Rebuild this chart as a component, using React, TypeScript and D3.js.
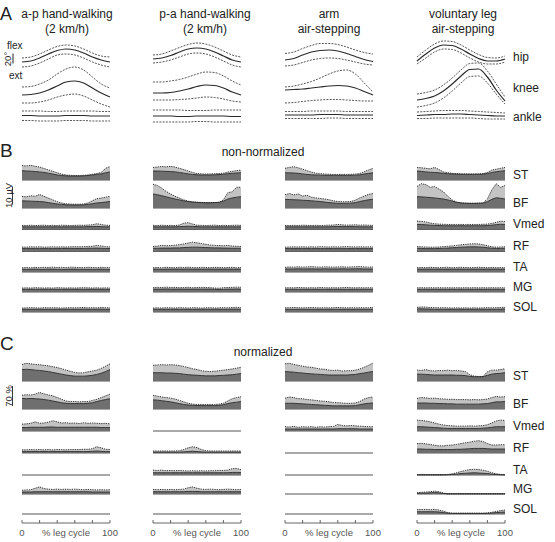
import React from 'react';
import * as d3 from 'd3';

const W = 555;
const H = 542;
const FONT = '"Liberation Sans", Arial, Helvetica, sans-serif';

// ---------- categories / labels ----------
const conditionTitle = ['a-p hand-walking', 'p-a hand-walking', 'arm', 'voluntary leg'];
const conditionSubtitle = ['(2 km/h)', '(2 km/h)', 'air-stepping', 'air-stepping'];
const jointNames = ['hip', 'knee', 'ankle'];
const muscleNames = ['ST', 'BF', 'Vmed', 'RF', 'TA', 'MG', 'SOL'];
const jointCycle = [0, 10, 20, 30, 40, 50, 60, 70, 80, 90, 100];
const emgCycle = [0, 5, 10, 15, 20, 25, 30, 35, 40, 45, 50, 55, 60, 65, 70, 75, 80, 85, 90, 95, 100];
const cycleTicks = [0, 20, 40, 60, 80, 100];

// ---------- joint angles (deg, relative), one row per condition ----------
const hipUpper = [
  [24, 26, 32, 40, 47, 50, 48, 42, 34, 28, 26],
  [30, 32, 38, 45, 51, 54, 52, 46, 38, 30, 26],
  [33, 36, 43, 49, 53, 53, 51, 46, 40, 35, 32],
  [26, 40, 52, 58, 57, 50, 40, 31, 25, 24, 28],
];
const hipMean = [
  [16, 18, 24, 32, 39, 42, 40, 34, 26, 20, 16],
  [22, 24, 29, 36, 42, 44, 42, 36, 28, 20, 16],
  [20, 23, 30, 36, 39, 40, 38, 33, 27, 21, 17],
  [18, 32, 44, 50, 49, 42, 32, 23, 18, 18, 22],
];
const hipLower = [
  [6, 8, 14, 22, 30, 32, 30, 24, 16, 10, 6],
  [14, 16, 20, 26, 32, 34, 32, 26, 18, 10, 6],
  [8, 10, 15, 20, 23, 24, 23, 20, 16, 12, 10],
  [12, 24, 36, 42, 41, 34, 24, 16, 12, 12, 16],
];
const kneeUpper = [
  [56, 57, 62, 70, 82, 92, 96, 90, 76, 62, 54],
  [66, 66, 68, 71, 76, 82, 86, 85, 78, 68, 60],
  [56, 58, 62, 67, 74, 82, 88, 90, 82, 64, 46],
  [42, 45, 50, 60, 74, 90, 103, 104, 88, 62, 36],
];
const kneeMean = [
  [40, 41, 44, 50, 58, 66, 68, 64, 54, 44, 36],
  [44, 44, 45, 48, 52, 57, 60, 59, 54, 46, 40],
  [50, 51, 52, 54, 56, 58, 59, 58, 54, 47, 40],
  [30, 33, 38, 48, 62, 78, 91, 92, 76, 50, 28],
];
const kneeLower = [
  [24, 24, 26, 30, 36, 40, 42, 38, 30, 22, 16],
  [30, 30, 30, 31, 32, 34, 36, 35, 32, 28, 26],
  [24, 25, 27, 29, 30, 31, 31, 30, 29, 28, 28],
  [16, 19, 24, 34, 48, 64, 77, 78, 64, 42, 22],
];
const ankleUpper = [
  [28, 28, 28, 27, 27, 28, 28, 28, 28, 27, 27],
  [30, 30, 30, 30, 29, 29, 29, 30, 30, 30, 30],
  [27, 27, 27, 28, 28, 28, 28, 27, 27, 27, 27],
  [26, 27, 28, 29, 29, 29, 28, 27, 26, 25, 24],
];
const ankleMean = [
  [19, 19, 18, 18, 18, 19, 19, 19, 18, 18, 18],
  [18, 18, 18, 17, 17, 18, 18, 18, 18, 17, 17],
  [20, 20, 20, 20, 21, 21, 21, 20, 20, 20, 20],
  [19, 20, 21, 21, 22, 22, 21, 20, 19, 18, 18],
];
const ankleLower = [
  [9, 9, 8, 8, 8, 9, 9, 9, 8, 8, 8],
  [6, 6, 6, 6, 6, 7, 7, 6, 6, 6, 6],
  [13, 13, 13, 13, 13, 14, 14, 13, 13, 13, 13],
  [13, 13, 14, 14, 14, 14, 14, 13, 12, 12, 12],
];

// ---------- B: non-normalized EMG (µV), rows = ST, BF, Vmed, RF, TA, MG, SOL ----------
const bUpperAP = [
  [8, 7.8, 8.2, 7.6, 7.2, 6.4, 5.6, 4.8, 4, 3.3, 2.8, 2.6, 2.5, 2.5, 2.6, 2.8, 3.2, 3.6, 4.2, 6.5, 7.5],
  [6.5, 6.2, 6.8, 6.5, 7.5, 6.5, 5.5, 4.5, 3.5, 2.8, 2.3, 2.2, 2.1, 2.1, 2.2, 2.8, 4, 5.2, 5.5, 6, 6.5],
  [2.3, 2.2, 2.4, 2.2, 2.3, 2.4, 2.2, 2.3, 2.2, 2.4, 2.3, 2.2, 2.3, 2.4, 2.3, 2.5, 2.6, 3.2, 2.8, 2.4, 2.3],
  [2.5, 2.4, 2.6, 2.5, 2.6, 2.4, 2.5, 2.6, 2.5, 2.6, 2.5, 2.6, 2.7, 2.6, 2.7, 2.8, 2.9, 3.4, 3.1, 2.7, 2.6],
  [2.3, 2.5, 2.3, 2.6, 2.4, 2.6, 2.5, 2.7, 2.5, 2.6, 2.4, 2.7, 2.6, 2.5, 2.4, 2.6, 2.5, 2.4, 2.6, 2.5, 2.4],
  [2.2, 2.3, 2.2, 2.4, 2.3, 2.2, 2.3, 2.2, 2.4, 2.3, 2.2, 2.3, 2.2, 2.3, 2.4, 2.3, 2.2, 2.3, 2.2, 2.3, 2.2],
  [2.2, 2.3, 2.4, 2.3, 2.2, 2.4, 2.3, 2.4, 2.3, 2.2, 2.3, 2.4, 2.3, 2.4, 2.5, 2.3, 2.4, 2.3, 2.5, 2.4, 2.3],
];
const bMeanAP = [
  [5.2, 5, 4.9, 4.7, 4.5, 4.2, 3.8, 3.3, 2.8, 2.5, 2.3, 2.2, 2.2, 2.2, 2.3, 2.5, 2.8, 3.1, 3.4, 4, 4.5],
  [4, 3.9, 3.8, 3.7, 3.6, 3.4, 3, 2.6, 2.2, 2, 1.8, 1.7, 1.7, 1.7, 1.8, 2, 2.4, 2.8, 3, 3.3, 3.6],
  [1.5, 1.5, 1.5, 1.5, 1.5, 1.5, 1.5, 1.5, 1.5, 1.5, 1.5, 1.5, 1.5, 1.5, 1.5, 1.6, 1.6, 1.7, 1.6, 1.5, 1.5],
  [1.6, 1.6, 1.6, 1.6, 1.6, 1.6, 1.6, 1.6, 1.6, 1.7, 1.7, 1.7, 1.7, 1.7, 1.7, 1.8, 1.8, 1.9, 1.8, 1.7, 1.7],
  [1.5, 1.5, 1.5, 1.6, 1.5, 1.5, 1.6, 1.6, 1.5, 1.5, 1.5, 1.6, 1.6, 1.5, 1.5, 1.5, 1.5, 1.5, 1.6, 1.5, 1.5],
  [1.5, 1.5, 1.5, 1.5, 1.5, 1.5, 1.5, 1.5, 1.5, 1.5, 1.5, 1.5, 1.5, 1.5, 1.5, 1.5, 1.5, 1.5, 1.5, 1.5, 1.5],
  [1.5, 1.5, 1.5, 1.5, 1.5, 1.5, 1.5, 1.5, 1.5, 1.5, 1.5, 1.5, 1.5, 1.5, 1.6, 1.5, 1.5, 1.5, 1.6, 1.5, 1.5],
];
const bUpperPA = [
  [7, 7.2, 7.5, 7.3, 7.6, 7.2, 6.5, 5.8, 5, 4.2, 3.6, 3.4, 3.3, 3.4, 3.5, 3.6, 3.8, 4.4, 4.8, 5.2, 5.5],
  [13.2, 12.5, 11, 9.2, 7.8, 6.5, 5.5, 4.5, 3.8, 3.4, 3.2, 3.1, 3, 3, 3, 3.2, 4.5, 8.5, 9, 11.5, 11.5],
  [2.3, 2.2, 2.4, 2.2, 2.3, 2.2, 2.5, 3.5, 3.8, 3, 2.4, 2.3, 2.2, 2.3, 2.4, 2.2, 2.3, 2.2, 2.3, 2.4, 2.3],
  [2.8, 3, 3.4, 3.2, 3.3, 3.5, 3.8, 4.2, 4.7, 5.2, 4.8, 4.4, 4, 3.6, 3.4, 3.3, 3.2, 3.4, 3, 2.9, 2.8],
  [2.4, 2.5, 2.3, 2.6, 2.5, 2.4, 2.6, 2.5, 2.7, 2.5, 2.4, 2.6, 2.5, 2.4, 2.6, 2.5, 2.4, 2.5, 2.6, 2.4, 2.5],
  [2.4, 2.6, 2.5, 2.7, 2.5, 2.6, 2.4, 2.5, 2.6, 2.4, 2.5, 2.6, 2.5, 2.4, 2.2, 2.1, 2.4, 2.5, 2.6, 2.7, 2.6],
  [2.2, 2.3, 2.2, 2.4, 2.3, 2.2, 2.4, 2.3, 2.2, 2.4, 2.3, 2.2, 2.3, 2.4, 2.2, 2.3, 2.4, 2.3, 2.5, 2.6, 2.4],
];
const bMeanPA = [
  [5, 5, 4.9, 4.8, 4.7, 4.5, 4.2, 3.8, 3.4, 3.1, 2.9, 2.8, 2.8, 2.8, 2.9, 3, 3.2, 3.5, 3.7, 3.9, 4],
  [7.8, 7.4, 6.8, 6.2, 5.6, 5, 4.5, 4, 3.6, 3.3, 3.1, 3, 2.9, 2.9, 3, 3.1, 3.8, 5, 5.6, 6, 6.3],
  [1.5, 1.5, 1.5, 1.5, 1.5, 1.5, 1.6, 1.7, 1.8, 1.7, 1.6, 1.5, 1.5, 1.5, 1.5, 1.5, 1.5, 1.5, 1.5, 1.5, 1.5],
  [1.8, 1.8, 1.9, 1.9, 1.9, 2, 2, 2.2, 2.3, 2.4, 2.4, 2.3, 2.2, 2.1, 2, 2, 1.9, 1.9, 1.8, 1.8, 1.8],
  [1.6, 1.6, 1.5, 1.6, 1.6, 1.6, 1.6, 1.6, 1.7, 1.6, 1.6, 1.6, 1.6, 1.6, 1.6, 1.6, 1.6, 1.6, 1.6, 1.6, 1.6],
  [1.6, 1.6, 1.6, 1.7, 1.6, 1.6, 1.6, 1.6, 1.6, 1.6, 1.6, 1.6, 1.6, 1.6, 1.5, 1.4, 1.5, 1.6, 1.6, 1.7, 1.6],
  [1.5, 1.5, 1.5, 1.5, 1.5, 1.5, 1.5, 1.5, 1.5, 1.5, 1.5, 1.5, 1.5, 1.5, 1.5, 1.5, 1.5, 1.5, 1.6, 1.6, 1.5],
];
const bUpperArm = [
  [6.5, 7, 7.4, 6.8, 6, 5.2, 4.4, 3.8, 3.5, 3.3, 3.2, 3.1, 3.1, 3.1, 3.1, 3.2, 3.3, 3.6, 4.6, 5.6, 6.5],
  [7.4, 8, 7.3, 7.8, 6.6, 7.1, 6, 5.6, 5.3, 5, 4.6, 4, 3.6, 3.5, 3.5, 3.6, 4.4, 5.6, 6.6, 7.6, 8],
  [2.3, 2.2, 2.3, 2.2, 2.4, 2.3, 2.2, 2.3, 2.2, 2.3, 2.4, 2.5, 2.8, 2.6, 2.4, 2.5, 2.6, 2.4, 2.5, 2.4, 2.3],
  [2.4, 2.5, 2.6, 2.5, 2.6, 2.5, 2.6, 2.5, 2.7, 2.6, 2.5, 2.6, 2.5, 2.6, 2.7, 2.6, 2.5, 2.6, 2.5, 2.6, 2.5],
  [2.6, 2.8, 2.7, 2.9, 2.7, 2.8, 3, 2.8, 2.7, 2.9, 2.8, 2.7, 2.8, 2.9, 2.7, 2.8, 2.9, 3, 2.8, 2.7, 2.8],
  [2.3, 2.4, 2.3, 2.5, 2.4, 2.3, 2.4, 2.3, 2.5, 2.4, 2.3, 2.4, 2.3, 2.4, 2.5, 2.4, 2.3, 2.4, 2.3, 2.4, 2.3],
  [2.3, 2.4, 2.5, 2.4, 2.3, 2.4, 2.5, 2.4, 2.3, 2.4, 2.3, 2.4, 2.5, 2.4, 2.3, 2.4, 2.3, 2.4, 2.3, 2.4, 2.6],
];
const bMeanArm = [
  [4, 4, 3.9, 3.7, 3.4, 3.1, 2.9, 2.8, 2.7, 2.6, 2.6, 2.6, 2.6, 2.6, 2.6, 2.6, 2.7, 2.9, 3.3, 3.7, 4],
  [4.8, 4.7, 4.6, 4.5, 4.3, 4.2, 4, 3.8, 3.6, 3.3, 3, 2.8, 2.6, 2.6, 2.6, 2.7, 3, 3.6, 4.1, 4.6, 4.9],
  [1.5, 1.5, 1.5, 1.5, 1.5, 1.5, 1.5, 1.5, 1.5, 1.5, 1.5, 1.6, 1.7, 1.6, 1.6, 1.6, 1.6, 1.5, 1.5, 1.5, 1.5],
  [1.6, 1.6, 1.6, 1.6, 1.6, 1.6, 1.6, 1.6, 1.6, 1.6, 1.6, 1.6, 1.6, 1.6, 1.6, 1.6, 1.6, 1.6, 1.6, 1.6, 1.6],
  [1.7, 1.7, 1.7, 1.8, 1.7, 1.7, 1.8, 1.7, 1.7, 1.8, 1.7, 1.7, 1.7, 1.8, 1.7, 1.7, 1.8, 1.8, 1.7, 1.7, 1.7],
  [1.5, 1.5, 1.5, 1.5, 1.5, 1.5, 1.5, 1.5, 1.5, 1.5, 1.5, 1.5, 1.5, 1.5, 1.5, 1.5, 1.5, 1.5, 1.5, 1.5, 1.5],
  [1.5, 1.5, 1.5, 1.5, 1.5, 1.5, 1.5, 1.5, 1.5, 1.5, 1.5, 1.5, 1.5, 1.5, 1.5, 1.5, 1.5, 1.5, 1.5, 1.5, 1.6],
];
const bUpperLeg = [
  [7, 6.8, 6.5, 6.2, 7, 5.8, 4.5, 4, 3.7, 3.5, 3.4, 3.4, 3.3, 3.3, 3.4, 3.5, 4.2, 5.5, 6, 6.5, 7],
  [12, 13.5, 13, 11.5, 12, 10.5, 9, 6.5, 4.5, 3.2, 2.8, 2.7, 2.6, 2.6, 2.7, 2.8, 5, 10, 13.5, 11.5, 12.5],
  [4.7, 4.5, 4.2, 3.6, 3.2, 3, 2.9, 2.8, 2.8, 2.8, 2.8, 2.8, 2.8, 2.8, 2.8, 2.9, 3, 3.4, 4, 4.6, 4.5],
  [2.7, 2.6, 2.5, 2.4, 2.4, 2.5, 2.7, 2.9, 3.1, 3.4, 3.7, 4, 4.2, 4.3, 4.2, 3.8, 3.2, 2.6, 2.4, 2.5, 2.6],
  [2.4, 2.5, 2.4, 2.6, 2.5, 2.4, 2.5, 2.6, 2.4, 2.5, 2.6, 2.5, 2.4, 2.5, 2.6, 2.5, 2.4, 2.5, 2.4, 2.5, 2.4],
  [2.3, 2.4, 2.3, 2.4, 2.3, 2.4, 2.3, 2.4, 2.3, 2.4, 2.3, 2.4, 2.3, 2.4, 2.3, 2.4, 2.3, 2.4, 2.3, 2.4, 2.3],
  [2.6, 2.8, 2.7, 2.5, 2.4, 2.3, 2.4, 2.3, 2.2, 2.3, 2.2, 2.3, 2.2, 2.3, 2.2, 2.3, 2.4, 2.3, 2.4, 2.5, 2.6],
];
const bMeanLeg = [
  [5, 4.8, 4.5, 4.3, 4.2, 4, 3.7, 3.5, 3.4, 3.3, 3.2, 3.2, 3.2, 3.2, 3.2, 3.3, 3.6, 4.2, 4.6, 4.9, 5.2],
  [6.3, 6.2, 6, 5.8, 5.6, 5.3, 5, 4.5, 3.8, 3.2, 2.8, 2.6, 2.6, 2.6, 2.6, 2.7, 3.5, 4.8, 5.7, 5.4, 5],
  [2.8, 2.8, 2.6, 2.4, 2.3, 2.2, 2.1, 2.1, 2.1, 2.1, 2.1, 2.1, 2.1, 2.1, 2.1, 2.1, 2.2, 2.4, 2.7, 2.9, 2.8],
  [1.8, 1.7, 1.6, 1.6, 1.6, 1.7, 1.8, 1.9, 2.1, 2.2, 2.4, 2.5, 2.6, 2.6, 2.5, 2.4, 2.1, 1.8, 1.7, 1.7, 1.8],
  [1.6, 1.6, 1.6, 1.6, 1.6, 1.6, 1.6, 1.6, 1.6, 1.6, 1.6, 1.6, 1.6, 1.6, 1.6, 1.6, 1.6, 1.6, 1.6, 1.6, 1.6],
  [1.5, 1.5, 1.5, 1.5, 1.5, 1.5, 1.5, 1.5, 1.5, 1.5, 1.5, 1.5, 1.5, 1.5, 1.5, 1.5, 1.5, 1.5, 1.5, 1.5, 1.5],
  [1.7, 1.8, 1.7, 1.6, 1.5, 1.5, 1.5, 1.5, 1.5, 1.5, 1.5, 1.5, 1.5, 1.5, 1.5, 1.5, 1.5, 1.5, 1.5, 1.6, 1.7],
];

// ---------- C: normalized EMG (%), null = muscle shown as flat line ----------
const cUpperAP = [
  [58, 62, 60, 58, 57, 55, 53, 50, 47, 43, 38, 34, 30, 28, 29, 32, 35, 38, 44, 52, 60],
  [48, 50, 49, 52, 58, 53, 49, 46, 40, 34, 28, 26, 26, 25, 26, 26, 30, 34, 40, 46, 52],
  [24, 25, 27, 32, 27, 28, 31, 36, 32, 28, 29, 27, 28, 26, 29, 27, 28, 27, 26, 27, 25],
  [11, 11, 12, 11, 12, 11, 12, 11, 12, 12, 11, 12, 12, 12, 13, 13, 15, 22, 18, 13, 12],
  null,
  [13, 14, 15, 20, 25, 19, 17, 16, 17, 16, 17, 16, 17, 16, 15, 16, 15, 14, 15, 14, 15],
  null,
];
const cMeanAP = [
  [40, 41, 40, 38, 37, 35, 33, 30, 27, 24, 21, 19, 17, 17, 17, 18, 20, 23, 27, 33, 40],
  [37, 36, 37, 36, 35, 33, 31, 28, 25, 22, 20, 19, 19, 19, 19, 20, 22, 26, 30, 33, 36],
  [12, 12, 13, 13, 13, 13, 14, 14, 13, 13, 13, 13, 13, 13, 13, 13, 13, 13, 12, 12, 12],
  [5, 5, 5, 5, 5, 5, 5, 5, 5, 5, 5, 5, 5, 5, 5, 5, 6, 7, 6, 5, 5],
  null,
  [7, 7, 7, 8, 8, 8, 8, 8, 8, 8, 8, 8, 8, 8, 8, 8, 7, 7, 7, 7, 7],
  null,
];
const cUpperPA = [
  [55, 56, 57, 56, 57, 56, 54, 51, 47, 43, 40, 36, 34, 33, 34, 36, 38, 40, 42, 45, 48],
  [48, 45, 42, 40, 38, 35, 30, 25, 20, 17, 16, 16, 16, 16, 16, 17, 20, 28, 36, 40, 43],
  null,
  [7, 7, 7, 7, 7, 7, 8, 12, 18, 22, 19, 12, 8, 7, 7, 7, 7, 7, 7, 7, 7],
  [17, 16, 17, 15, 16, 15, 16, 15, 14, 15, 14, 15, 14, 15, 15, 16, 16, 17, 22, 23, 19],
  [16, 15, 16, 15, 16, 15, 16, 17, 22, 25, 20, 17, 16, 17, 16, 15, 16, 17, 16, 15, 16],
  null,
];
const cMeanPA = [
  [29, 29, 29, 28, 28, 27, 26, 24, 22, 21, 20, 19, 18, 18, 18, 19, 20, 21, 22, 24, 26],
  [32, 31, 29, 27, 25, 22, 19, 16, 14, 13, 12, 12, 12, 12, 12, 13, 15, 19, 22, 24, 26],
  null,
  [3, 3, 3, 3, 3, 3, 3, 4, 5, 6, 5, 4, 3, 3, 3, 3, 3, 3, 3, 3, 3],
  [8, 8, 8, 8, 8, 8, 8, 8, 8, 8, 8, 8, 8, 8, 8, 8, 8, 8, 9, 9, 9],
  [8, 8, 8, 8, 8, 8, 8, 8, 9, 9, 9, 8, 8, 8, 8, 8, 8, 8, 8, 8, 8],
  null,
];
const cUpperArm = [
  [60, 62, 58, 55, 52, 49, 48, 45, 42, 41, 38, 37, 38, 35, 36, 36, 38, 42, 48, 55, 63],
  [38, 42, 40, 36, 36, 33, 32, 30, 28, 27, 25, 23, 22, 21, 20, 20, 21, 26, 35, 40, 42],
  [15, 14, 16, 13, 15, 14, 15, 13, 15, 14, 15, 16, 23, 19, 18, 19, 18, 17, 16, 15, 15],
  null,
  null,
  null,
  null,
];
const cMeanArm = [
  [33, 32, 31, 29, 28, 26, 25, 24, 23, 22, 21, 21, 21, 21, 21, 22, 23, 26, 28, 31, 33],
  [20, 20, 20, 19, 18, 17, 16, 15, 14, 13, 12, 11, 11, 11, 11, 11, 12, 15, 18, 20, 21],
  [7, 7, 7, 7, 7, 7, 7, 7, 7, 7, 7, 7, 8, 8, 8, 8, 8, 7, 7, 7, 7],
  null,
  null,
  null,
  null,
];
const cUpperLeg = [
  [38, 37, 40, 36, 35, 37, 36, 38, 36, 37, 35, 33, 22, 17, 16, 16, 32, 38, 38, 40, 43],
  [37, 40, 39, 37, 38, 36, 35, 34, 34, 33, 33, 33, 32, 33, 32, 33, 35, 40, 44, 42, 43],
  [38, 37, 35, 32, 28, 24, 21, 19, 18, 17, 17, 17, 18, 17, 18, 19, 22, 28, 35, 38, 37],
  [33, 34, 32, 30, 27, 25, 25, 27, 28, 30, 33, 36, 38, 41, 43, 40, 33, 28, 28, 29, 29],
  [1, 1, 1, 1, 1, 1, 1, 2, 4, 8, 12, 16, 19, 20, 19, 17, 13, 8, 4, 2, 1],
  [4, 6, 7, 8, 10, 8, 3, 1, 1, 1, 1, 1, 1, 1, 1, 1, 1, 1, 1, 1, 1],
  [15, 16, 16, 15, 16, 14, 10, 5, 3, 3, 3, 3, 3, 3, 3, 3, 4, 6, 9, 12, 14],
];
const cMeanLeg = [
  [24, 24, 23, 22, 21, 21, 21, 21, 21, 20, 20, 19, 16, 15, 15, 15, 20, 24, 26, 27, 29],
  [21, 21, 21, 20, 20, 19, 19, 18, 18, 17, 17, 17, 17, 17, 17, 18, 19, 22, 25, 25, 26],
  [15, 15, 14, 13, 12, 11, 10, 9, 9, 9, 9, 9, 9, 9, 9, 10, 11, 13, 15, 15, 15],
  [14, 14, 13, 13, 12, 12, 12, 12, 12, 13, 13, 14, 15, 16, 16, 16, 15, 14, 14, 14, 14],
  [0.5, 0.5, 0.5, 0.5, 0.5, 0.5, 0.5, 1, 2, 3, 5, 6, 7, 8, 7, 6, 5, 3, 2, 1, 0.5],
  [2, 3, 3, 4, 5, 4, 2, 0.5, 0.5, 0.5, 0.5, 0.5, 0.5, 0.5, 0.5, 0.5, 0.5, 0.5, 0.5, 0.5, 0.5],
  [8, 8, 8, 8, 8, 7, 5, 3, 2, 2, 2, 2, 2, 2, 2, 2, 2, 3, 5, 6, 7],
];

// ---------- layout (pixels) ----------
const colRange = [[22, 110], [153, 241], [285, 373], [417, 505]];
const titleCenter = [67, 205, 329, 463];
const jointBaseY = [70, 115, 125];
const bBaseY = [180, 208, 229.5, 251.5, 272, 292, 312];
const cBaseY = [381, 409, 431, 453, 475, 494, 514];
const axisY = 523;

const bUpper = [bUpperAP, bUpperPA, bUpperArm, bUpperLeg];
const bMean = [bMeanAP, bMeanPA, bMeanArm, bMeanLeg];
const cUpper = [cUpperAP, cUpperPA, cUpperArm, cUpperLeg];
const cMean = [cMeanAP, cMeanPA, cMeanArm, cMeanLeg];
const jointUpper = [hipUpper, kneeUpper, ankleUpper];
const jointMean = [hipMean, kneeMean, ankleMean];
const jointLower = [hipLower, kneeLower, ankleLower];

const DARK = '#6f6f6f';
const LIGHT = '#c3c3c3';
const INK = '#222';

function xScale(c: number) {
  return d3.scaleLinear().domain([0, 100]).range(colRange[c]);
}

function EmgTrace({ c, base, k, upper, mean }: { c: number; base: number; k: number; upper: number[] | null; mean: number[] | null }) {
  const x = xScale(c);
  const y = d3.scaleLinear().domain([0, 10]).range([base, base - 10 * k]);
  if (!upper || !mean) {
    return <line x1={x(0)} x2={x(100)} y1={base} y2={base} stroke="#555" strokeWidth={1.1} />;
  }
  const idx = emgCycle.map((_, i) => i);
  const darkArea = d3.area<number>().x((i) => x(emgCycle[i])).y0(base).y1((i) => y(mean[i]));
  const lightArea = d3.area<number>().x((i) => x(emgCycle[i])).y0((i) => y(mean[i])).y1((i) => y(upper[i]));
  const meanLine = d3.line<number>().x((i) => x(emgCycle[i])).y((i) => y(mean[i]));
  const upLine = d3.line<number>().x((i) => x(emgCycle[i])).y((i) => y(upper[i]));
  return (
    <g>
      <line x1={x(0)} x2={x(100)} y1={base} y2={base} stroke="#555" strokeWidth={1} />
      <path d={lightArea(idx) || ''} fill={LIGHT} />
      <path d={darkArea(idx) || ''} fill={DARK} />
      <path d={upLine(idx) || ''} fill="none" stroke="#222" strokeWidth={0.9} strokeDasharray="1.3,1" />
      <path d={meanLine(idx) || ''} fill="none" stroke="#2a2a2a" strokeWidth={0.9} />
    </g>
  );
}

function JointCurves({ c, j }: { c: number; j: number }) {
  const x = xScale(c);
  const y = d3.scaleLinear().domain([0, 20]).range([jointBaseY[j], jointBaseY[j] - 10]);
  const gen = d3.line<number>().x((d, i) => x(jointCycle[i])).y((d) => y(d)).curve(d3.curveMonotoneX);
  return (
    <g fill="none">
      <path d={gen(jointUpper[j][c]) || ''} stroke="#444" strokeWidth={0.9} strokeDasharray="2,1.2" />
      <path d={gen(jointLower[j][c]) || ''} stroke="#444" strokeWidth={0.9} strokeDasharray="2,1.2" />
      <path d={gen(jointMean[j][c]) || ''} stroke="#2a2a2a" strokeWidth={1.2} />
    </g>
  );
}

export default function App() {
  const kB = 1.8; // px per µV
  const kC = 20 / 70 * 10 / 10; // px per %
  return (
    <svg width={W} height={H} viewBox={`0 0 ${W} ${H}`} style={{ position: 'absolute', left: 0, top: 0, background: '#fff' }} fontFamily={FONT}>
      <rect width={W} height={H} fill="#fff" />
      {/* panel letters */}
      <text x={0} y={20} fontSize={18} fill={INK}>A</text>
      <text x={0} y={157} fontSize={19} fill={INK}>B</text>
      <text x={0} y={350} fontSize={19} fill={INK}>C</text>

      {/* titles */}
      {conditionTitle.map((t, c) => (
        <g key={'t' + c} fontSize={12} fill={INK} textAnchor="middle">
          <text x={titleCenter[c]} y={17.5}>{t}</text>
          <text x={titleCenter[c]} y={32.5}>{conditionSubtitle[c]}</text>
        </g>
      ))}

      {/* panel A scale */}
      <text x={7} y={48.5} fontSize={10} fill={INK}>flex</text>
      <text x={9} y={78.5} fontSize={10} fill={INK}>ext</text>
      <text transform="translate(10.5,59) rotate(-90)" fontSize={9.5} textAnchor="middle" fill={INK}>20°</text>
      <line x1={13} x2={13} y1={53.5} y2={63.5} stroke={INK} strokeWidth={1} />

      {/* panel A curves */}
      {colRange.map((_, c) => jointNames.map((_, j) => <JointCurves key={`j${c}-${j}`} c={c} j={j} />))}
      {jointNames.map((n, j) => (
        <text key={n} x={513} y={[61, 92, 121][j]} fontSize={12} fill={INK}>{n}</text>
      ))}

      {/* panel B */}
      <text x={263} y={156} fontSize={12} fill={INK} textAnchor="middle">non-normalized</text>
      <text transform="translate(11.5,195.5) rotate(-90)" fontSize={9.5} textAnchor="middle" fill={INK}>10 µV</text>
      <line x1={12.5} x2={12.5} y1={195.5 - 9} y2={195.5 + 9} stroke={INK} strokeWidth={0.9} />
      {colRange.map((_, c) =>
        muscleNames.map((m, r) => (
          <EmgTrace key={`b${c}-${r}`} c={c} base={bBaseY[r]} k={kB} upper={bUpper[c][r]} mean={bMean[c][r]} />
        ))
      )}
      {muscleNames.map((m, r) => (
        <text key={'bl' + m} x={513} y={bBaseY[r] - 1.5} fontSize={12} fill={INK}>{m}</text>
      ))}

      {/* panel C */}
      <text x={263} y={356} fontSize={12} fill={INK} textAnchor="middle">normalized</text>
      <text transform="translate(11.5,396) rotate(-90)" fontSize={9.5} textAnchor="middle" fill={INK}>70 %</text>
      <line x1={12.5} x2={12.5} y1={386} y2={406} stroke={INK} strokeWidth={0.9} />
      {colRange.map((_, c) =>
        muscleNames.map((m, r) => (
          <EmgTrace key={`c${c}-${r}`} c={c} base={cBaseY[r]} k={kC} upper={cUpper[c][r]} mean={cMean[c][r]} />
        ))
      )}
      {muscleNames.map((m, r) => (
        <text key={'cl' + m} x={513} y={cBaseY[r] - 1.5} fontSize={12} fill={INK}>{m}</text>
      ))}

      {/* x axes */}
      {colRange.map((_, c) => {
        const x = xScale(c);
        return (
          <g key={'ax' + c} stroke="#555" fill="#555">
            <line x1={x(0)} x2={x(100)} y1={axisY} y2={axisY} strokeWidth={0.9} />
            {cycleTicks.map((t) => (
              <line key={t} x1={x(t)} x2={x(t)} y1={axisY} y2={axisY - 3} strokeWidth={0.9} />
            ))}
            <text x={x(0)} y={535.5} fontSize={9.5} textAnchor="middle" stroke="none">0</text>
            <text x={x(100)} y={535.5} fontSize={9.5} textAnchor="middle" stroke="none">100</text>
            <text x={x(50)} y={536} fontSize={9.5} textAnchor="middle" stroke="none">% leg cycle</text>
          </g>
        );
      })}
    </svg>
  );
}
